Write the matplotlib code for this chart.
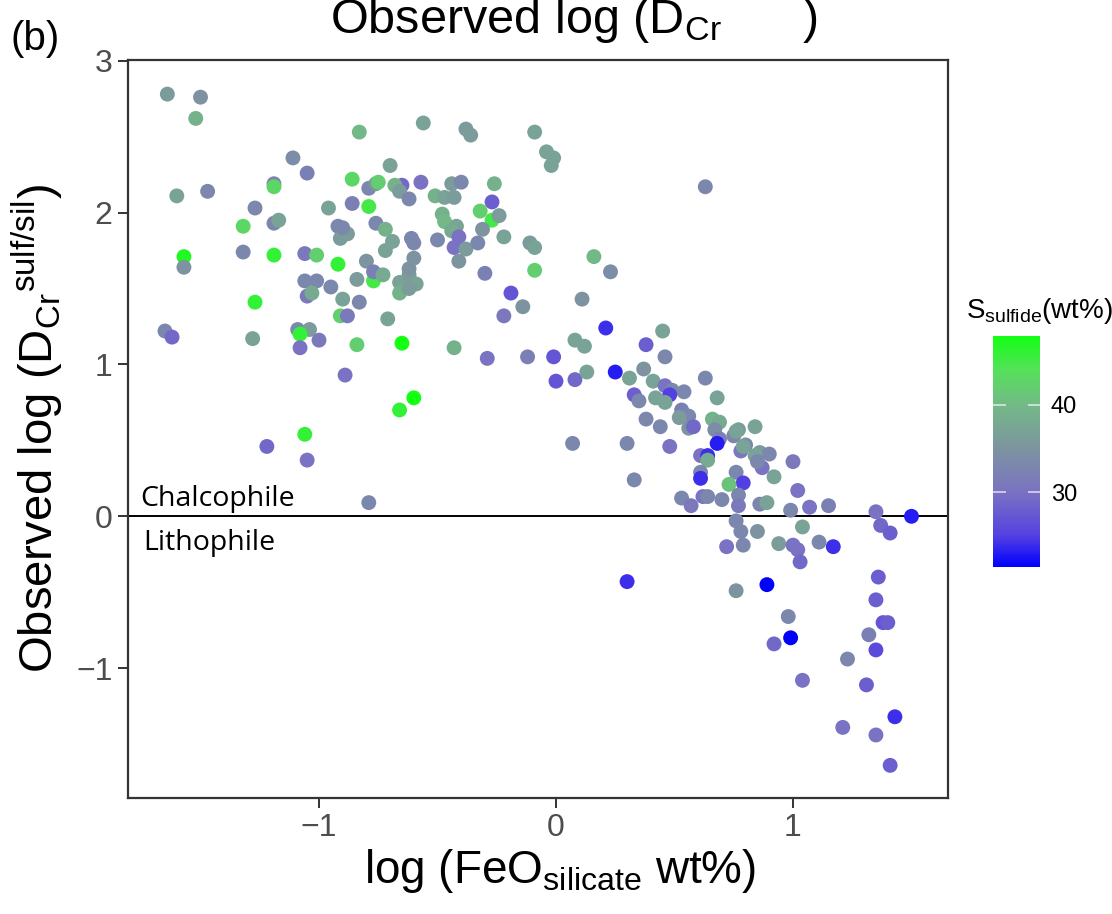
import numpy as np
import matplotlib
matplotlib.use("Agg")
from matplotlib import pyplot as plt
from matplotlib.colors import LinearSegmentedColormap, Normalize

plt.rcParams['font.family'] = ['Liberation Sans', 'DejaVu Sans']
plt.rcParams['mathtext.fontset'] = 'custom'
plt.rcParams['mathtext.rm'] = 'Liberation Sans'
plt.rcParams['mathtext.it'] = 'Liberation Sans:italic'

# log FeO (silicate, wt%)
log_feo = [
    -1.64, -1.50, -1.52, -1.11, -1.05, -1.60, -1.47, -1.19, -1.19, -1.27,
    -0.96, -1.32, -1.19, -1.17, -0.92, -0.91, -0.88, -1.57, -1.57, -1.32,
    -1.19, -1.06, -1.01, -0.92, -1.06, -1.01, -0.95, -1.05, -1.03, -0.90,
    -1.27, -0.91, -0.88, -1.65, -1.62, -1.28, -1.09, -1.04, -1.08, -1.00,
    -1.08, -0.89, -1.06, -1.22, -1.05, -0.79, -0.60, -0.66, -0.65, -0.43,
    -0.29, -0.12, -0.84,
    -0.83, -0.56, -0.38, -0.36, -0.09, -0.04, -0.01, -0.02, -0.70, -0.86,
    -0.79, -0.76, -0.75, -0.65, -0.68, -0.66, -0.57, -0.62, -0.86, -0.79,
    -0.51, -0.47, -0.44, -0.40, -0.43, -0.26, -0.27, -0.32, -0.27, -0.24,
    -0.48, -0.47, -0.42, -0.44, -0.41, -0.43, -0.38, -0.31, -0.33, -0.22,
    -0.11, -0.09, -0.76, -0.72, -0.69, -0.61, -0.60, -0.50, -0.72, -0.90,
    -0.80, -0.60, -0.41, -0.84, -0.77, -0.77, -0.73, -0.66, -0.62, -0.59,
    -0.66, -0.62, -0.62, -0.83, -0.71, -0.30, -0.09, -0.19, -0.14, -0.22,
    -0.01, 0.00,
    0.63, 0.16, 0.23, 0.11, 0.21, 0.08, 0.12, 0.45, 0.38, 0.46,
    0.08, 0.13, 0.25, 0.31, 0.37, 0.41, 0.63, 0.68, 0.46, 0.49,
    0.54, 0.48, 0.33, 0.35, 0.42, 0.46, 0.53, 0.56, 0.52, 0.38,
    0.44, 0.56, 0.58, 0.66, 0.69, 0.67, 0.77, 0.84, 0.69, 0.68,
    0.75, 0.07, 0.30, 0.48, 0.61, 0.64, 0.64, 0.80, 0.78, 0.86,
    0.90, 1.00, 0.76, 0.79, 0.84, 0.87, 0.85, 0.92, 1.02, 0.76,
    0.79, 0.73, 0.77, 0.77, 0.86, 0.89, 0.99, 1.07, 1.15, 1.35,
    1.37, 1.41, 1.50, 0.76, 0.78, 0.85, 0.72, 0.79, 1.04, 0.94,
    1.00, 1.02, 1.03, 1.11, 1.17, 1.36, 0.89, 0.30, 0.76, 0.98,
    0.99, 0.92, 1.04, 1.23, 1.21, 1.32, 1.35, 1.31, 1.35, 1.41,
    1.43, 1.35, 1.38, 1.40, 0.53, 0.57, 0.62, 0.64, 0.70, 0.61,
    0.61, 0.33,
]

# observed log D(Cr) sulfide/silicate
log_d = [
    2.78, 2.76, 2.62, 2.36, 2.26, 2.11, 2.14, 2.19, 2.17, 2.03,
    2.03, 1.91, 1.93, 1.95, 1.91, 1.83, 1.86, 1.71, 1.64, 1.74,
    1.72, 1.73, 1.72, 1.66, 1.55, 1.55, 1.51, 1.45, 1.47, 1.43,
    1.41, 1.32, 1.32, 1.22, 1.18, 1.17, 1.23, 1.23, 1.20, 1.16,
    1.11, 0.93, 0.54, 0.46, 0.37, 0.09, 0.78, 0.70, 1.14, 1.11,
    1.04, 1.05, 1.13,
    2.53, 2.59, 2.55, 2.51, 2.53, 2.40, 2.36, 2.31, 2.31, 2.22,
    2.16, 2.19, 2.20, 2.18, 2.18, 2.14, 2.20, 2.09, 2.06, 2.04,
    2.11, 2.10, 2.19, 2.20, 2.10, 2.19, 2.07, 2.01, 1.95, 1.98,
    1.99, 1.94, 1.91, 1.88, 1.84, 1.77, 1.76, 1.89, 1.80, 1.84,
    1.80, 1.77, 1.93, 1.89, 1.81, 1.83, 1.80, 1.82, 1.75, 1.90,
    1.68, 1.70, 1.68, 1.56, 1.55, 1.61, 1.59, 1.54, 1.59, 1.53,
    1.47, 1.50, 1.63, 1.41, 1.30, 1.60, 1.62, 1.47, 1.38, 1.32,
    1.05, 0.89,
    2.17, 1.71, 1.61, 1.43, 1.24, 1.16, 1.12, 1.22, 1.13, 1.05,
    0.90, 0.95, 0.95, 0.91, 0.97, 0.89, 0.91, 0.78, 0.86, 0.83,
    0.82, 0.80, 0.80, 0.76, 0.78, 0.75, 0.70, 0.66, 0.65, 0.64,
    0.59, 0.58, 0.59, 0.64, 0.62, 0.57, 0.57, 0.59, 0.51, 0.48,
    0.53, 0.48, 0.48, 0.46, 0.40, 0.40, 0.37, 0.47, 0.43, 0.42,
    0.41, 0.36, 0.56, 0.46, 0.40, 0.32, 0.36, 0.26, 0.17, 0.29,
    0.22, 0.21, 0.14, 0.07, 0.08, 0.09, 0.04, 0.06, 0.07, 0.03,
    -0.06, -0.11, 0.00, -0.03, -0.10, -0.10, -0.20, -0.19, -0.07, -0.18,
    -0.19, -0.22, -0.30, -0.17, -0.20, -0.40, -0.45, -0.43, -0.49, -0.66,
    -0.80, -0.84, -1.08, -0.94, -1.39, -0.78, -0.88, -1.11, -1.44, -1.64,
    -1.32, -0.55, -0.70, -0.70, 0.12, 0.07, 0.13, 0.13, 0.11, 0.29,
    0.25, 0.24,
]

# S in sulfide (wt%)
s_sulfide = [
    36, 35, 39, 34, 32, 37, 33, 33, 43, 33,
    37, 43, 33, 37, 33, 36, 36, 47, 35, 33,
    46, 31, 42, 46, 33, 33, 33, 31, 38, 37,
    46, 42, 31, 33, 29, 37, 33, 36, 46, 31,
    30, 30, 46, 29, 30, 33, 48, 46, 48, 39,
    30, 32, 42,
    40, 37, 36, 36, 37, 37, 37, 37, 37, 43,
    33, 35, 42, 29, 39, 36, 30, 33, 32, 45,
    39, 37, 36, 33, 36, 39, 28, 42, 45, 36,
    39, 40, 37, 38, 30, 30, 36, 35, 33, 37,
    36, 37, 33, 39, 37, 33, 33, 33, 37, 33,
    35, 35, 35, 36, 45, 32, 38, 37, 36, 37,
    39, 36, 35, 33, 37, 32, 42, 27, 35, 31,
    27, 27,
    33, 40, 34, 35, 24, 37, 37, 37, 28, 33,
    29, 37, 23, 37, 35, 37, 33, 37, 30, 33,
    33, 25, 28, 33, 37, 37, 32, 33, 36, 33,
    33, 35, 29, 39, 38, 34, 36, 37, 32, 23,
    33, 33, 33, 30, 30, 24, 38, 33, 31, 36,
    33, 31, 37, 37, 37, 30, 33, 37, 30, 33,
    25, 41, 33, 31, 33, 37, 33, 30, 32, 30,
    29, 28, 23, 33, 33, 35, 30, 33, 37, 36,
    30, 30, 29, 33, 24, 28, 21.5, 24, 35, 33,
    21.5, 29, 30, 33, 30, 32, 26, 28, 30, 28,
    24, 28, 27, 28, 33, 31, 30, 33, 33, 33,
    24, 33,
]

s_min, s_max = 21.4, 47.9
cb_ticks = [30, 40]

stops = [
    (21.4, (0, 0, 255)),
    (25.0, (85, 65, 225)),
    (30.0, (122, 114, 194)),
    (35.0, (125, 148, 160)),
    (40.0, (115, 185, 135)),
    (44.0, (85, 225, 90)),
    (47.9, (20, 255, 20)),
]
cmap = LinearSegmentedColormap.from_list(
    "sulf", [((v - s_min) / (s_max - s_min), tuple(c / 255 for c in rgb)) for v, rgb in stops])
norm = Normalize(vmin=s_min, vmax=s_max)

fig = plt.figure(figsize=(11.12, 9.14), dpi=100)
ax = fig.add_axes([0.1151, 0.1269, 0.7374, 0.8075])

ax.axhline(0, color='black', lw=1.4, zorder=1)
sc = ax.scatter(log_feo, log_d, c=s_sulfide, cmap=cmap, norm=norm, s=115,
                linewidths=0, zorder=2)

ax.set_xlim(-1.806, 1.654)
ax.set_ylim(-1.855, 3.005)
ax.set_xticks([-1, 0, 1])
ax.set_yticks([-1, 0, 1, 2, 3])
ax.tick_params(axis='both', direction='out', length=7, width=1.4, color='#333333',
               labelsize=23, labelcolor='#4d4d4d', pad=4)
for sp in ax.spines.values():
    sp.set_color('#333333')
    sp.set_linewidth(1.6)

ax.set_xlabel(r"log (FeO$_{\mathrm{silicate}}$ wt%)", fontsize=33, labelpad=3, x=0.527)
ax.set_ylabel(r"Observed log (D$_{\mathrm{Cr}}$$^{\mathrm{sulf/sil}}$)", fontsize=34, labelpad=8)

ax.text(-1.755, 0.07, "Chalcophile", fontsize=20.5, family='Open Sans', va='baseline')
ax.text(-1.74, -0.22, "Lithophile", fontsize=20.5, family='Open Sans', va='baseline')

# title runs off the top edge of the figure, as in the original panel
fig.text(330 / 1112, 1 - 33 / 914, r"Observed log (D$_{\mathrm{Cr}}$      )",
         ha='left', va='baseline', fontsize=35)
fig.text(713 / 1112, 1.002, "sulf/sil", ha='left', va='bottom', fontsize=24)
fig.text(0.009, 1 - 50 / 914, "(b)", fontsize=29, va='baseline')

cax = fig.add_axes([0.893, 0.3796, 0.042, 0.2527])
cb = fig.colorbar(sc, cax=cax, ticks=cb_ticks)
cb.outline.set_visible(False)
cax.tick_params(direction='in', length=9, width=1.2, color=(1, 1, 1, 0.7),
                left=True, right=True, labelsize=17, pad=8)
fig.text(0.869, 1 - 318 / 914, r"S$_{\mathrm{sulfide}}$(wt%)", fontsize=20, va='baseline')

fig.savefig("out.png", dpi=100)
